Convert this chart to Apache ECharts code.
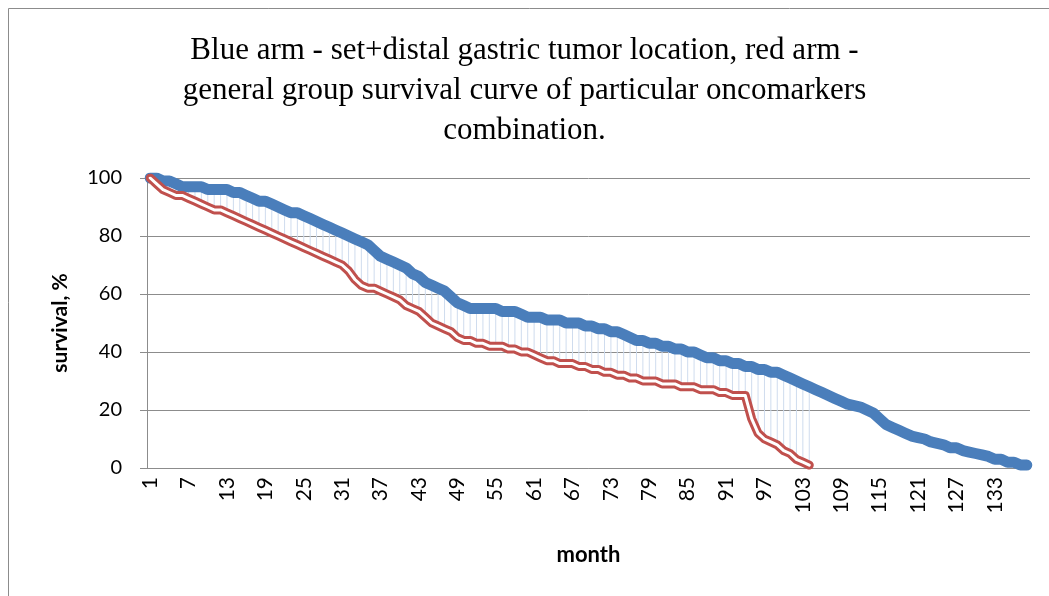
<!DOCTYPE html>
<html>
<head>
<meta charset="utf-8">
<script src="https://cdn.jsdelivr.net/npm/echarts@6/dist/echarts.min.js"></script>
<style>
  html, body { margin: 0; padding: 0; background: #fff; }
  #chart { width: 1049px; height: 596px; }
</style>
</head>
<body>
<div id="chart"></div>
<script>
// month index 1..138
const months = [];
for (let m = 1; m <= 138; m++) months.push(String(m));

// blue arm: set + distal gastric tumor location
const blueArm = [
  100, 100, 99, 99, 98, 97, 97, 97, 97, 96,
  96, 96, 96, 95, 95, 94, 93, 92, 92, 91,
  90, 89, 88, 88, 87, 86, 85, 84, 83, 82,
  81, 80, 79, 78, 77, 75, 73, 72, 71, 70,
  69, 67, 66, 64, 63, 62, 61, 59, 57, 56,
  55, 55, 55, 55, 55, 54, 54, 54, 53, 52,
  52, 52, 51, 51, 51, 50, 50, 50, 49, 49,
  48, 48, 47, 47, 46, 45, 44, 44, 43, 43,
  42, 42, 41, 41, 40, 40, 39, 38, 38, 37,
  37, 36, 36, 35, 35, 34, 34, 33, 33, 32,
  31, 30, 29, 28, 27, 26, 25, 24, 23, 22,
  21.5, 21, 20, 19, 17, 15, 14, 13, 12, 11,
  10.5, 10, 9, 8.5, 8, 7, 7, 6, 5.5, 5,
  4.5, 4, 3, 3, 2, 2, 1, 1
];

// red arm: general group
const redArm = [
  100, 98, 96, 95, 94, 94, 93, 92, 91, 90,
  89, 89, 88, 87, 86, 85, 84, 83, 82, 81,
  80, 79, 78, 77, 76, 75, 74, 73, 72, 71,
  70, 68, 65, 63, 62, 62, 61, 60, 59, 58,
  56, 55, 54, 52, 50, 49, 48, 47, 45, 44,
  44, 43, 43, 42, 42, 42, 41, 41, 40, 40,
  39, 38, 37, 37, 36, 36, 36, 35, 35, 34,
  34, 33, 33, 32, 32, 31, 31, 30, 30, 30,
  29, 29, 29, 28, 28, 28, 27, 27, 27, 26,
  26, 25, 25, 25, 17, 12, 10, 9, 8, 6,
  5, 3, 2, 1
];

const yTicks = [0, 20, 40, 60, 80, 100];

const titleLines = [
  'Blue arm - set+distal gastric tumor location, red arm -',
  'general group survival curve of particular oncomarkers',
  'combination.'
];

// high-low lines between the two arms
const dropData = redArm.map((r, i) => [i, r, blueArm[i]]);

const chart = echarts.init(document.getElementById('chart'));

chart.setOption({
  animation: false,
  backgroundColor: '#fff',
  title: {
    text: titleLines.join('\n'),
    left: 'center',
    top: 26,
    textStyle: {
      fontFamily: 'Liberation Serif',
      fontWeight: 'normal',
      fontSize: 31,
      lineHeight: 40,
      color: '#000'
    }
  },
  graphic: [{
    type: 'rect',
    shape: { x: 8.5, y: 8.5, width: 1100, height: 700 },
    style: { fill: 'none', stroke: '#8c8c8c', lineWidth: 1 },
    silent: true
  }],
  grid: { left: 147, right: 19, top: 178, bottom: 128 },
  xAxis: {
    type: 'category',
    data: months,
    boundaryGap: true,
    name: 'month',
    nameLocation: 'middle',
    nameGap: 76,
    nameTextStyle: { fontFamily: 'Lato', fontWeight: 'bold', fontSize: 22, color: '#000' },
    axisLine: { lineStyle: { color: '#8c8c8c', width: 1 } },
    axisTick: { show: false },
    axisLabel: {
      interval: 5,
      rotate: 90,
      margin: 9,
      fontFamily: 'Lato',
      fontSize: 21,
      color: '#000'
    },
    splitLine: { show: false }
  },
  yAxis: {
    type: 'value',
    min: yTicks[0],
    max: yTicks[yTicks.length - 1],
    interval: 20,
    name: 'survival, %',
    nameLocation: 'middle',
    nameRotate: 90,
    nameGap: 76,
    nameTextStyle: { fontFamily: 'Lato', fontWeight: 'bold', fontSize: 21, color: '#000' },
    axisLine: { show: true, lineStyle: { color: '#8c8c8c', width: 1 } },
    axisTick: { show: true, inside: false, length: 7, lineStyle: { color: '#8c8c8c' } },
    axisLabel: {
      margin: 25,
      fontFamily: 'Lato',
      fontSize: 20,
      color: '#000'
    },
    splitLine: { lineStyle: { color: '#8c8c8c', width: 1 } }
  },
  series: [
    {
      name: 'drop',
      type: 'custom',
      silent: true,
      z: 1,
      data: dropData,
      renderItem: (params, api) => {
        const a = api.coord([api.value(0), api.value(1)]);
        const b = api.coord([api.value(0), api.value(2)]);
        return {
          type: 'line',
          shape: { x1: a[0], y1: a[1], x2: b[0], y2: b[1] },
          style: { stroke: '#cfdcee', lineWidth: 1 }
        };
      }
    },
    {
      name: 'Blue arm',
      type: 'line',
      data: blueArm,
      z: 2,
      showSymbol: false,
      lineStyle: { color: '#4a7ebb', width: 11, cap: 'round', join: 'round' }
    },
    {
      name: 'Red arm',
      type: 'line',
      data: redArm,
      z: 3,
      showSymbol: false,
      lineStyle: { color: '#c0504d', width: 9, cap: 'round', join: 'round' }
    },
    {
      name: 'Red arm inner',
      type: 'line',
      data: redArm,
      z: 4,
      showSymbol: false,
      lineStyle: { color: '#ffffff', width: 3, cap: 'round', join: 'round' }
    }
  ]
});
</script>
</body>
</html>
